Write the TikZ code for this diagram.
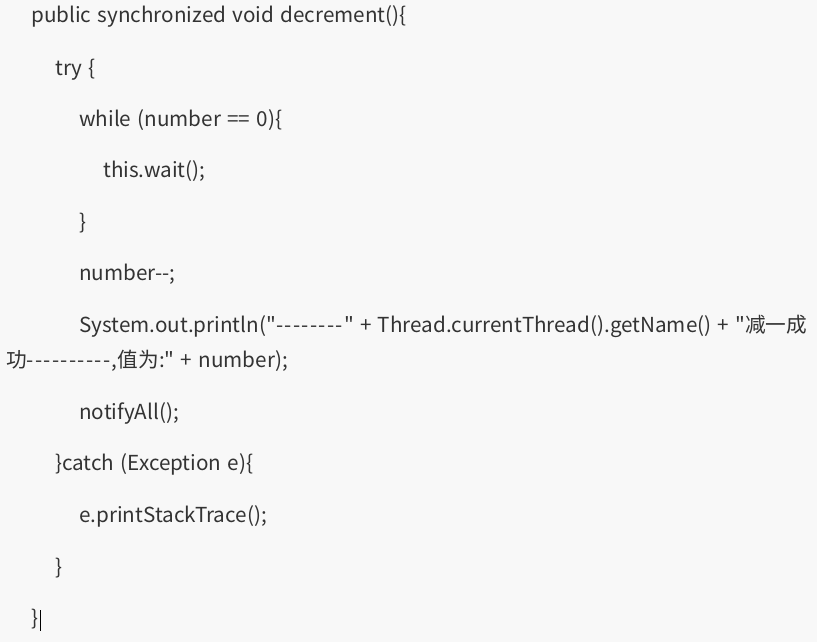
\documentclass[tikz,border=0pt]{standalone}
\usepackage{fontspec}
\newfontfamily\yahei[Ligatures=ResetAll,WordSpace=1.35]{Noto Sans CJK SC}
\definecolor{codegray}{HTML}{333333}
\definecolor{pagebg}{HTML}{F8F8F8}
\newcommand\dashrun[1]{\foreach \i in {1,...,#1}{-\kern1pt}}
\tikzset{
codeline/.style={anchor=base west,inner sep=0pt,text=codegray,font=\yahei\fontsize{15.5}{18}\selectfont}
}
\begin{document}
\begin{tikzpicture}[x=0.75pt,y=-0.75pt]
\fill[pagebg] (0,0) rectangle (817,642);
\useasboundingbox (0,0) rectangle (817,642);
\node[codeline] (head) at (31,23) {public synchronized void decrement()\{};
\node[codeline] (try) at (55,75) {try \{};
\node[codeline] (while) at (79,126) {while (number == 0)\{};
\node[codeline] (wait) at (103,177) {this.wait();};
\node[codeline] (endwhile) at (79,229) {\}};
\node[codeline] (dec) at (79,280) {number--;};
\node[codeline] (print) at (79,332) {System.out.println("\dashrun{8}" + Thread.currentThread().getName() + "减一成};
\node[codeline] (printb) at (6,367) {功\dashrun{10},值为:" + number);};
\node[codeline] (notify) at (79,419) {notifyAll();};
\node[codeline] (catch) at (55,470) {\}catch (Exception e)\{};
\node[codeline] (trace) at (79,522) {e.printStackTrace();};
\node[codeline] (endcatch) at (55,574) {\}};
\node[codeline] (endfun) at (31,625) {\}};
\draw[black,line width=0.75pt] ([xshift=1.5pt]endfun.base east) ++(0,-15) -- ++(0,21);
\end{tikzpicture}
\end{document}
